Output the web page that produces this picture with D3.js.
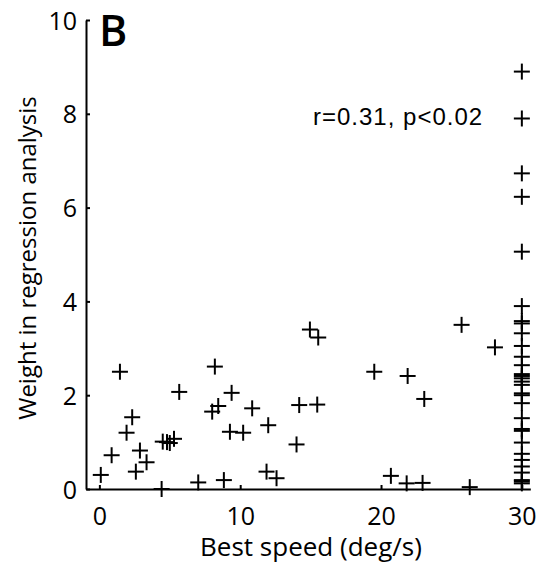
<!DOCTYPE html>
<html>
<head>
<meta charset="utf-8">
<script src="https://cdn.jsdelivr.net/npm/d3@7"></script>
<style>
  body { margin: 0; background: #fff; }
  svg text { fill: #000; }
</style>
</head>
<body>
<div id="chart"></div>
<script>
// cells with best speed below the top of the tested range
var bestSpeed = [0.1, 0.87, 1.46, 1.93, 2.33, 2.88, 2.59, 3.35, 4.42, 4.5, 4.8, 5.0, 5.3,
    5.67, 7.02, 8.2, 8.01, 8.44, 9.39, 8.84, 9.27, 10.21, 10.85, 11.99, 11.87, 12.58,
    14.95, 15.54, 14.19, 15.47, 14.0, 19.52, 21.89, 23.07, 20.7, 21.82, 22.95,
    25.72, 28.09, 26.3]
var weight = [0.30, 0.72, 2.50, 1.20, 1.53, 0.82, 0.37, 0.57, 0.0, 1.01, 1.0, 0.98, 1.07,
    2.07, 0.14, 2.61, 1.65, 1.77, 2.05, 0.19, 1.22, 1.20, 1.72, 1.36, 0.37, 0.23,
    3.40, 3.23, 1.79, 1.80, 0.95, 2.50, 2.41, 1.92, 0.28, 0.12, 0.13,
    3.50, 3.02, 0.04]

// cells that kept responding at the fastest speed (30 deg/s)
var maxSpeed = 30
var maxSpeedWeight = [8.90, 7.90, 6.73, 6.23, 5.06, 3.90, 3.58, 3.53, 3.32, 3.05, 2.82,
    2.64, 2.45, 2.41, 2.36, 2.29, 2.22, 2.04, 2.00, 1.83, 1.51, 1.28, 1.24, 0.99,
    0.75, 0.62, 0.48, 0.35, 0.19, 0.16, 0.12]

var xTicks = [0, 10, 20, 30]
var yTicks = [0, 2, 4, 6, 8, 10]

var width = 545, height = 569

var points = bestSpeed.map(function (s, i) { return {x: s, y: weight[i]} })
maxSpeedWeight.forEach(function (w) { points.push({x: maxSpeed, y: w}) })

var svg = d3.select("#chart")
    .append("svg")
    .attr("width", width)
    .attr("height", height)

var x = d3.scaleLinear()
    .domain([-0.95, 30.6])
    .range([86, 530.3])

var y = d3.scaleLinear()
    .domain([0, 10])
    .range([489, 20])

var xAxis = d3.axisBottom(x)
    .tickValues(xTicks)
    .tickSizeInner(-4)
    .tickSizeOuter(0)
    .tickPadding(19)

var yAxis = d3.axisLeft(y)
    .tickValues(yTicks)
    .tickSizeInner(-4)
    .tickSizeOuter(0)
    .tickPadding(9)

var gx = svg.append("g")
    .attr("transform", "translate(0," + y(0) + ")")
    .call(xAxis)

var gy = svg.append("g")
    .attr("transform", "translate(" + x.range()[0] + ",0)")
    .call(yAxis)

svg.selectAll(".domain, .tick line")
    .attr("stroke", "#000")
    .attr("stroke-width", 2)

svg.selectAll(".tick text")
    .style("font-family", "'Open Sans', sans-serif")
    .style("font-size", "25px")
    .attr("fill", "#000")

gx.selectAll(".tick text").attr("dy", "0.66em")
gy.selectAll(".tick text").attr("dy", "0.36em")

// plus markers
var arm = 8
var marks = svg.append("g")
    .attr("stroke", "#000")
    .attr("stroke-width", 2)

marks.selectAll(".h")
    .data(points)
    .enter()
    .append("line")
    .attr("x1", function (d) { return x(d.x) - arm })
    .attr("x2", function (d) { return x(d.x) + arm })
    .attr("y1", function (d) { return y(d.y) })
    .attr("y2", function (d) { return y(d.y) })

marks.selectAll(".v")
    .data(points)
    .enter()
    .append("line")
    .attr("x1", function (d) { return x(d.x) })
    .attr("x2", function (d) { return x(d.x) })
    .attr("y1", function (d) { return y(d.y) - arm })
    .attr("y2", function (d) { return y(d.y) + arm })

// labels
svg.append("text")
    .attr("x", 311)
    .attr("y", 556)
    .attr("text-anchor", "middle")
    .style("font-family", "'Open Sans', sans-serif")
    .style("font-size", "26px")
    .text("Best speed (deg/s)")

svg.append("text")
    .attr("transform", "translate(36,258) rotate(-90)")
    .attr("text-anchor", "middle")
    .style("font-family", "'Open Sans', sans-serif")
    .style("font-size", "24px")
    .text("Weight in regression analysis")

svg.append("text")
    .attr("x", 313)
    .attr("y", 125)
    .style("font-family", "'Liberation Sans', Arial, sans-serif")
    .style("font-size", "24px")
    .style("letter-spacing", "1px")
    .text("r=0.31, p<0.02")

svg.append("text")
    .attr("x", 99)
    .attr("y", 46)
    .style("font-family", "'Open Sans', sans-serif")
    .style("font-size", "43px")
    .style("font-weight", 600)
    .text("B")
</script>
</body>
</html>
